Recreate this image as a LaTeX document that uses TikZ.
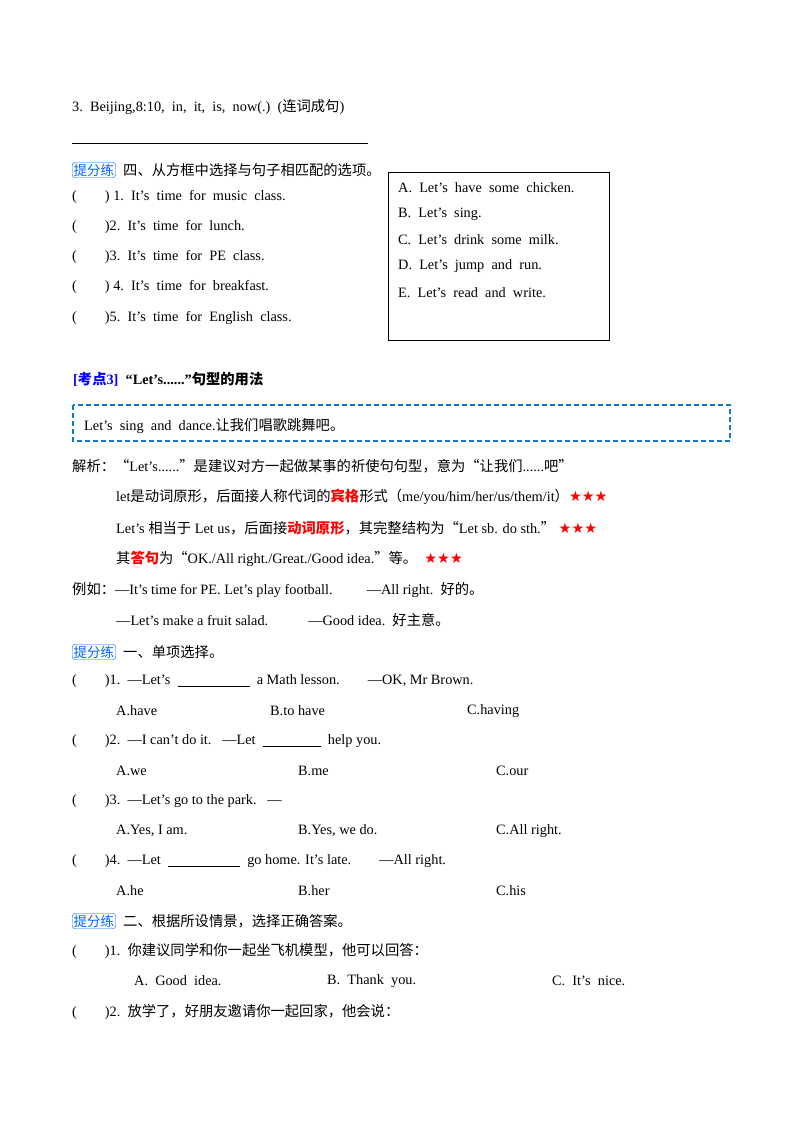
\documentclass[tikz,border=0pt]{standalone}
\usepackage{fontspec}
\setmainfont{Liberation Serif}
\newfontfamily\cjk{Noto Sans CJK SC}
\newfontfamily\sym{DejaVu Sans}
\newcommand{\zh}[1]{{\cjk #1}}
\newcommand{\stars}{{\sym\color{red}★★★}}
\begin{document}
\begin{tikzpicture}[x=1pt,y=-1pt,
  t/.style={anchor=west,inner sep=0pt,font=\fontsize{14.3}{16}\selectfont},
  tag/.style={draw=blue!60!cyan,rounded corners=3pt,inner sep=1.5pt,text=blue!60!cyan,font=\fontsize{13.5}{15}\cjk,anchor=west},
  red/.style={text=red,font=\bfseries}]
\useasboundingbox (0,0) rectangle (800,1132);
\node[t] (q3) at (72,107) {3.\ \ Beijing,8:10,\ \ in,\ \ it,\ \ is,\ \ now(.)\ \ (\zh{连词成句})};
\draw (72,143) -- (368,143);
\node[tag] (p1) at (72,170) {提分练};
\node[t] (h1) at (123,170) {\zh{四、从方框中选择与句子相匹配的选项。}};
\node[t] at (72,197) {(\hspace{28pt}) 1.\ \ It's\ \ time\ \ for\ \ music\ \ class.};
\node[t] at (72,227) {(\hspace{28pt})2.\ \ It's\ \ time\ \ for\ \ lunch.};
\node[t] at (72,257) {(\hspace{28pt})3.\ \ It's\ \ time\ \ for\ \ PE\ \ class.};
\node[t] at (72,287) {(\hspace{28pt}) 4.\ \ It's\ \ time\ \ for\ \ breakfast.};
\node[t] at (72,318) {(\hspace{28pt})5.\ \ It's\ \ time\ \ for\ \ English\ \ class.};
\draw (388,172) rectangle (609,340);
\node[t] at (398,188) {A.\ \ Let's\ \ have\ \ some\ \ chicken.};
\node[t] at (398,214) {B.\ \ Let's\ \ sing.};
\node[t] at (398,240) {C.\ \ Let's\ \ drink\ \ some\ \ milk.};
\node[t] at (398,266) {D.\ \ Let's\ \ jump\ \ and\ \ run.};
\node[t] at (398,293) {E.\ \ Let's\ \ read\ \ and\ \ write.};
\node[t] at (73,379) {\textcolor{blue}{\bfseries[\zh{考点}3]}\ \ \textbf{“Let’s......”\zh{句型的用法}}};
\draw[dashed,dash pattern=on 5pt off 3pt,line width=1.3pt,draw=cyan!60!blue] (73,405) rectangle (730,441);
\node[t] at (84,426) {Let’s\ \ sing\ \ and\ \ dance.\zh{让我们唱歌跳舞吧。}};
\node[t] at (72,466) {\zh{解析：“}Let’s......\zh{”是建议对方一起做某事的祈使句句型，意为“让我们}......\zh{吧”}};
\node[t] at (116,497) {let\zh{是动词原形，后面接人称代词的}\textcolor{red}{\zh{\bfseries 宾格}}\zh{形式（}me/you/him/her/us/them/it\zh{）}\stars};
\node[t] at (116,528) {Let’s \zh{相当于} Let us\zh{，后面接}\textcolor{red}{\zh{\bfseries 动词原形}}\zh{，其完整结构为“}Let sb. do sth.\zh{”}\ \stars};
\node[t] at (116,559) {\zh{其}\textcolor{red}{\zh{\bfseries 答句}}\zh{为“}OK./All right./Great./Good idea.\zh{”等。}\ \ \stars};
\node[t] at (72,590) {\zh{例如：}—It’s time for PE. Let’s play football.\hspace{34pt}—All right.\ \ \zh{好的。}};
\node[t] at (116,620) {—Let’s make a fruit salad.\hspace{40pt}—Good idea.\ \ \zh{好主意。}};
\node[tag] (p2) at (72,652) {提分练};
\node[t] at (123,652) {\zh{一、单项选择。}};
\node[t] at (72,681) {(\hspace{28pt})1.\ \ —Let’s\ \ \underline{\hspace{72pt}}\ \ a Math lesson.\hspace{28pt}—OK, Mr Brown.};
\node[t] at (116,711) {A.have};
\node[t] at (270,711) {B.to have};
\node[t] at (467,711) {C.having};
\node[t] at (72,741) {(\hspace{28pt})2.\ \ —I can’t do it.\ \ \ —Let\ \ \underline{\hspace{58pt}}\ \ help you.};
\node[t] at (116,771) {A.we};
\node[t] at (298,771) {B.me};
\node[t] at (496,771) {C.our};
\node[t] at (72,801) {(\hspace{28pt})3.\ \ —Let’s go to the park.\ \ \ —};
\node[t] at (116,831) {A.Yes, I am.};
\node[t] at (298,831) {B.Yes, we do.};
\node[t] at (496,831) {C.All right.};
\node[t] at (72,861) {(\hspace{28pt})4.\ \ —Let\ \ \underline{\hspace{72pt}}\ \ go home. It’s late.\hspace{28pt}—All right.};
\node[t] at (116,891) {A.he};
\node[t] at (298,891) {B.her};
\node[t] at (496,891) {C.his};
\node[tag] (p3) at (72,921) {提分练};
\node[t] at (123,921) {\zh{二、根据所设情景，选择正确答案。}};
\node[t] at (72,951) {(\hspace{28pt})1.\ \ \zh{你建议同学和你一起坐飞机模型，他可以回答：}};
\node[t] at (134,981) {A.\ \ Good\ \ idea.};
\node[t] at (327,981) {B.\ \ Thank\ \ you.};
\node[t] at (552,981) {C.\ \ It’s\ \ nice.};
\node[t] at (72,1012) {(\hspace{28pt})2.\ \ \zh{放学了，好朋友邀请你一起回家，他会说：}};
\end{tikzpicture}
\end{document}
